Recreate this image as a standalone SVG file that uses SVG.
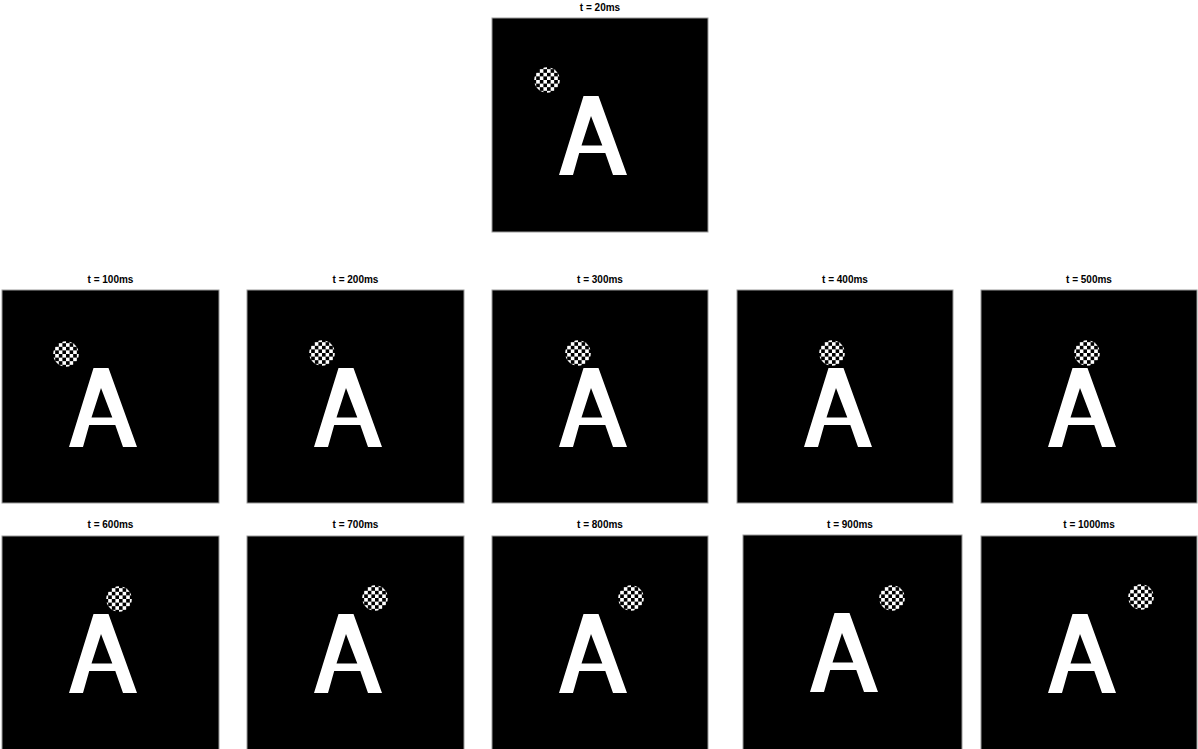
<svg xmlns="http://www.w3.org/2000/svg" xmlns:xlink="http://www.w3.org/1999/xlink" width="1198" height="749" viewBox="0 0 1198 749">
<style>
.bg{fill:#000;stroke:#9a9a9a;stroke-width:1}
.lbl{font-family:"Liberation Sans",Arial,sans-serif;font-size:10px;font-weight:bold;fill:#000;text-anchor:middle}
.a{fill:#fff;fill-rule:evenodd}
</style>
<defs>
<pattern id="chk" x="0" y="0" width="7.2" height="7.2" patternUnits="userSpaceOnUse">
<rect width="7.2" height="7.2" fill="#fff"/>
<rect x="0" y="0" width="3.6" height="3.6" fill="#000"/>
<rect x="3.6" y="3.6" width="3.6" height="3.6" fill="#000"/>
</pattern>
<g id="ball"><circle cx="0" cy="0" r="12.8" fill="url(#chk)"/></g>
<path id="A" class="a" d="M91.5,78 L106.5,78 L135,157 L121,157 L113.3,135 L87.2,135 L81,157 L67,157 Z M99,98 L110.3,127.5 L89.5,127.5 Z"/>
</defs>
<rect width="1198" height="749" fill="#fff"/>

<g id="p20" transform="translate(492,18)">
<rect class="bg" x="0" y="0" width="216" height="214"/>
<use xlink:href="#A"/>
<use xlink:href="#ball" x="55" y="62"/>
<text class="lbl" x="108" y="-7">t = 20ms</text>
</g>

<g id="p100" transform="translate(2,290)">
<rect class="bg" x="0" y="0" width="217" height="213"/>
<use xlink:href="#A"/>
<use xlink:href="#ball" x="64" y="64"/>
<text class="lbl" x="108.5" y="-7">t = 100ms</text>
</g>
<g id="p200" transform="translate(247,290)">
<rect class="bg" x="0" y="0" width="217" height="213"/>
<use xlink:href="#A"/>
<use xlink:href="#ball" x="75" y="63"/>
<text class="lbl" x="108.5" y="-7">t = 200ms</text>
</g>
<g id="p300" transform="translate(492,290)">
<rect class="bg" x="0" y="0" width="216" height="213"/>
<use xlink:href="#A"/>
<use xlink:href="#ball" x="86" y="63"/>
<text class="lbl" x="108" y="-7">t = 300ms</text>
</g>
<g id="p400" transform="translate(737,290)">
<rect class="bg" x="0" y="0" width="216" height="213"/>
<use xlink:href="#A"/>
<use xlink:href="#ball" x="95" y="63"/>
<text class="lbl" x="108" y="-7">t = 400ms</text>
</g>
<g id="p500" transform="translate(981,290)">
<rect class="bg" x="0" y="0" width="216" height="213"/>
<use xlink:href="#A"/>
<use xlink:href="#ball" x="106" y="63"/>
<text class="lbl" x="108" y="-7">t = 500ms</text>
</g>

<g id="p600" transform="translate(2,536)">
<rect class="bg" x="0" y="0" width="217" height="214"/>
<use xlink:href="#A"/>
<use xlink:href="#ball" x="117" y="63"/>
<text class="lbl" x="108.5" y="-8">t = 600ms</text>
</g>
<g id="p700" transform="translate(247,536)">
<rect class="bg" x="0" y="0" width="217" height="214"/>
<use xlink:href="#A"/>
<use xlink:href="#ball" x="128" y="62"/>
<text class="lbl" x="108.5" y="-8">t = 700ms</text>
</g>
<g id="p800" transform="translate(492,536)">
<rect class="bg" x="0" y="0" width="216" height="214"/>
<use xlink:href="#A"/>
<use xlink:href="#ball" x="139" y="62"/>
<text class="lbl" x="108" y="-8">t = 800ms</text>
</g>
<g id="p900" transform="translate(743,535)">
<rect class="bg" x="0" y="0" width="219" height="215"/>
<use xlink:href="#A"/>
<use xlink:href="#ball" x="149" y="63"/>
<text class="lbl" x="107" y="-7">t = 900ms</text>
</g>
<g id="p1000" transform="translate(981,536)">
<rect class="bg" x="0" y="0" width="216" height="214"/>
<use xlink:href="#A"/>
<use xlink:href="#ball" x="160" y="61"/>
<text class="lbl" x="108" y="-8">t = 1000ms</text>
</g>
<g id="connectors"/>
</svg>
